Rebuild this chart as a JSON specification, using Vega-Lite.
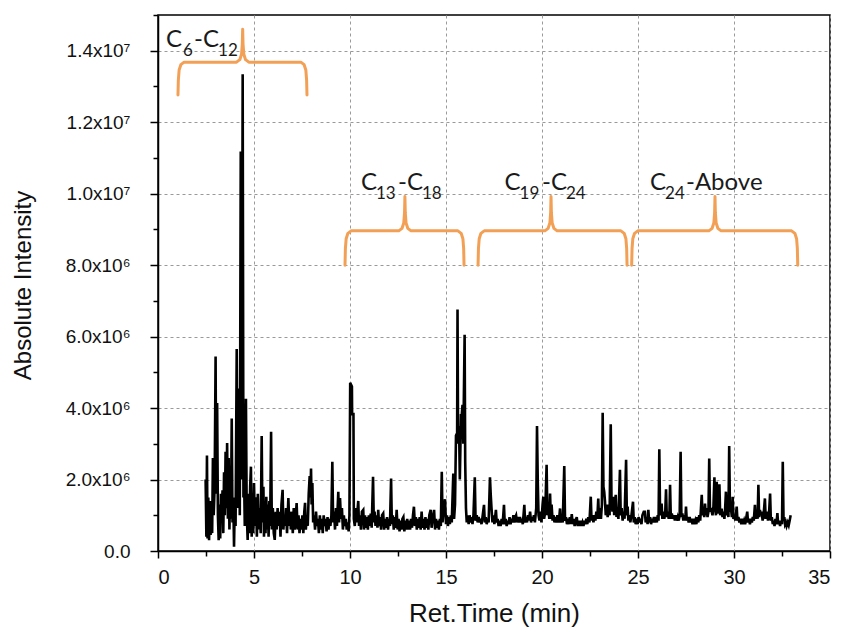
{
  "$schema": "https://vega.github.io/schema/vega-lite/v6.json",
  "autosize": "none",
  "width": 672,
  "height": 536,
  "padding": {"left": 158, "top": 15, "right": 11, "bottom": 81},
  "background": "white",
  "datasets": {
    "trace": [
      {"t":2.48,"i":2.0e6},{"t":2.52,"i":0.4e6},{"t":2.55,"i":2.67e6},{"t":2.58,"i":0.35e6},{"t":2.62,"i":1.5e6},{"t":2.66,"i":0.3e6},{"t":2.70,"i":1.4e6},{"t":2.74,"i":0.45e6},{"t":2.78,"i":1.2e6},{"t":2.82,"i":0.5e6},
      {"t":2.86,"i":2.6e6},{"t":2.90,"i":1.0e6},{"t":2.95,"i":1.8e6},{"t":3.00,"i":5.44e6},{"t":3.03,"i":1.6e6},{"t":3.08,"i":4.14e6},{"t":3.12,"i":1.0e6},{"t":3.16,"i":0.3e6},{"t":3.20,"i":1.3e6},{"t":3.24,"i":0.35e6},
      {"t":3.28,"i":1.6e6},{"t":3.32,"i":0.8e6},{"t":3.36,"i":1.7e6},{"t":3.40,"i":0.5e6},{"t":3.44,"i":2.2e6},{"t":3.48,"i":1.0e6},{"t":3.52,"i":2.78e6},{"t":3.56,"i":1.2e6},{"t":3.60,"i":3.02e6},{"t":3.64,"i":0.9e6},
      {"t":3.68,"i":2.6e6},{"t":3.72,"i":0.6e6},{"t":3.76,"i":1.9e6},{"t":3.80,"i":0.9e6},{"t":3.84,"i":3.71e6},{"t":3.88,"i":0.8e6},{"t":3.92,"i":1.5e6},{"t":3.96,"i":0.12e6},{"t":4.00,"i":1.4e6},{"t":4.04,"i":0.7e6},
      {"t":4.10,"i":5.65e6},{"t":4.14,"i":1.2e6},{"t":4.18,"i":2.5e6},{"t":4.22,"i":4.55e6},{"t":4.26,"i":1.0e6},{"t":4.31,"i":11.18e6},{"t":4.36,"i":2.0e6},{"t":4.41,"i":13.34e6},{"t":4.45,"i":1.5e6},{"t":4.48,"i":2.18e6},
      {"t":4.52,"i":0.7e6},{"t":4.58,"i":4.26e6},{"t":4.62,"i":1.1e6},{"t":4.67,"i":0.31e6},{"t":4.71,"i":1.6e6},{"t":4.75,"i":0.5e6},{"t":4.80,"i":1.8e6},{"t":4.84,"i":2.36e6},{"t":4.88,"i":0.4e6},{"t":4.92,"i":1.5e6},
      {"t":4.96,"i":0.5e6},{"t":5.00,"i":1.9e6},{"t":5.05,"i":0.7e6},{"t":5.10,"i":1.5e6},{"t":5.15,"i":0.4e6},{"t":5.20,"i":1.6e6},{"t":5.25,"i":0.6e6},{"t":5.30,"i":1.2e6},{"t":5.35,"i":0.5e6},{"t":5.40,"i":3.22e6},
      {"t":5.44,"i":0.8e6},{"t":5.49,"i":1.8e6},{"t":5.52,"i":0.4e6},{"t":5.56,"i":1.3e6},{"t":5.60,"i":0.5e6},{"t":5.64,"i":1.52e6},{"t":5.68,"i":0.6e6},{"t":5.72,"i":1.3e6},{"t":5.76,"i":0.4e6},{"t":5.80,"i":1.4e6},
      {"t":5.84,"i":0.7e6},{"t":5.89,"i":3.34e6},{"t":5.93,"i":0.6e6},{"t":5.98,"i":1.2e6},{"t":6.03,"i":0.5e6},{"t":6.08,"i":0.31e6},{"t":6.13,"i":1.1e6},{"t":6.18,"i":0.6e6},{"t":6.23,"i":1.2e6},{"t":6.28,"i":0.7e6},
      {"t":6.33,"i":1.1e6},{"t":6.38,"i":0.4e6},{"t":6.43,"i":1.3e6},{"t":6.49,"i":1.71e6},{"t":6.53,"i":0.6e6},{"t":6.58,"i":1.0e6},{"t":6.62,"i":0.7e6},{"t":6.67,"i":1.2e6},{"t":6.72,"i":0.5e6},{"t":6.79,"i":1.48e6},
      {"t":6.84,"i":0.7e6},{"t":6.88,"i":1.1e6},{"t":6.92,"i":0.6e6},{"t":6.97,"i":1.1e6},{"t":7.02,"i":0.5e6},{"t":7.07,"i":1.2e6},{"t":7.12,"i":0.6e6},{"t":7.17,"i":0.9e6},{"t":7.22,"i":1.34e6},{"t":7.27,"i":0.6e6},
      {"t":7.32,"i":1.0e6},{"t":7.37,"i":0.5e6},{"t":7.42,"i":0.9e6},{"t":7.47,"i":0.6e6},{"t":7.52,"i":1.0e6},{"t":7.57,"i":0.5e6},{"t":7.62,"i":1.1e6},{"t":7.66,"i":1.35e6},{"t":7.70,"i":0.6e6},{"t":7.75,"i":1.0e6},
      {"t":7.80,"i":0.7e6},{"t":7.85,"i":1.6e6},{"t":7.90,"i":2.1e6},{"t":7.94,"i":1.5e6},{"t":7.97,"i":2.31e6},{"t":8.00,"i":1.3e6},{"t":8.04,"i":1.9e6},{"t":8.08,"i":0.8e6},{"t":8.13,"i":1.0e6},{"t":8.18,"i":0.6e6},
      {"t":8.23,"i":1.1e6},{"t":8.28,"i":0.7e6},{"t":8.33,"i":0.9e6},{"t":8.38,"i":0.5e6},{"t":8.43,"i":1.0e6},{"t":8.48,"i":0.6e6},{"t":8.53,"i":0.9e6},{"t":8.58,"i":0.5e6},{"t":8.63,"i":1.0e6},{"t":8.68,"i":0.7e6},
      {"t":8.73,"i":0.9e6},{"t":8.78,"i":0.55e6},{"t":8.83,"i":0.95e6},{"t":8.88,"i":0.6e6},{"t":8.93,"i":0.9e6},{"t":8.98,"i":0.7e6},{"t":9.03,"i":1.0e6},{"t":9.08,"i":2.5e6},{"t":9.12,"i":0.8e6},{"t":9.17,"i":1.1e6},
      {"t":9.22,"i":0.6e6},{"t":9.27,"i":1.2e6},{"t":9.32,"i":0.7e6},{"t":9.39,"i":1.66e6},{"t":9.43,"i":0.8e6},{"t":9.48,"i":1.48e6},{"t":9.53,"i":0.9e6},{"t":9.58,"i":1.2e6},{"t":9.63,"i":0.6e6},{"t":9.68,"i":1.0e6},
      {"t":9.73,"i":0.7e6},{"t":9.78,"i":0.9e6},{"t":9.83,"i":0.6e6},{"t":9.88,"i":0.8e6},{"t":9.93,"i":0.55e6},{"t":9.97,"i":1.0e6},{"t":10.01,"i":4.71e6},{"t":10.10,"i":4.6e6},{"t":10.11,"i":3.83e6},{"t":10.18,"i":3.83e6},
      {"t":10.20,"i":0.9e6},{"t":10.25,"i":0.7e6},{"t":10.30,"i":1.2e6},{"t":10.35,"i":0.8e6},{"t":10.40,"i":1.2e6},{"t":10.43,"i":1.4e6},{"t":10.47,"i":0.7e6},{"t":10.52,"i":1.0e6},{"t":10.57,"i":0.6e6},{"t":10.62,"i":1.1e6},
      {"t":10.69,"i":1.15e6},{"t":10.73,"i":0.6e6},{"t":10.78,"i":1.0e6},{"t":10.83,"i":0.65e6},{"t":10.88,"i":0.95e6},{"t":10.93,"i":0.6e6},{"t":10.98,"i":1.0e6},{"t":11.03,"i":0.7e6},{"t":11.08,"i":1.05e6},{"t":11.13,"i":0.65e6},
      {"t":11.20,"i":2.08e6},{"t":11.24,"i":0.8e6},{"t":11.28,"i":1.1e6},{"t":11.33,"i":0.7e6},{"t":11.38,"i":1.0e6},{"t":11.43,"i":0.65e6},{"t":11.47,"i":1.15e6},{"t":11.52,"i":0.7e6},{"t":11.57,"i":0.95e6},{"t":11.62,"i":0.6e6},
      {"t":11.67,"i":1.0e6},{"t":11.73,"i":1.05e6},{"t":11.78,"i":0.6e6},{"t":11.83,"i":0.9e6},{"t":11.88,"i":0.65e6},{"t":11.93,"i":0.95e6},{"t":11.98,"i":0.6e6},{"t":12.03,"i":0.9e6},{"t":12.08,"i":0.7e6},{"t":12.14,"i":2.03e6},
      {"t":12.18,"i":0.75e6},{"t":12.23,"i":1.0e6},{"t":12.28,"i":0.6e6},{"t":12.33,"i":0.95e6},{"t":12.38,"i":0.65e6},{"t":12.43,"i":1.15e6},{"t":12.48,"i":0.6e6},{"t":12.53,"i":0.9e6},{"t":12.58,"i":0.55e6},{"t":12.63,"i":0.85e6},
      {"t":12.68,"i":0.6e6},{"t":12.73,"i":0.9e6},{"t":12.78,"i":0.95e6},{"t":12.83,"i":0.55e6},{"t":12.88,"i":0.85e6},{"t":12.93,"i":0.6e6},{"t":12.98,"i":0.9e6},{"t":13.03,"i":0.6e6},{"t":13.08,"i":0.85e6},{"t":13.13,"i":0.6e6},
      {"t":13.18,"i":0.9e6},{"t":13.23,"i":0.65e6},{"t":13.28,"i":1.0e6},{"t":13.33,"i":1.24e6},{"t":13.38,"i":0.7e6},{"t":13.43,"i":0.95e6},{"t":13.48,"i":0.6e6},{"t":13.53,"i":0.9e6},{"t":13.58,"i":0.65e6},{"t":13.63,"i":0.95e6},
      {"t":13.68,"i":0.6e6},{"t":13.73,"i":1.1e6},{"t":13.78,"i":0.65e6},{"t":13.83,"i":0.9e6},{"t":13.88,"i":0.6e6},{"t":13.93,"i":0.95e6},{"t":13.98,"i":0.65e6},{"t":14.03,"i":0.9e6},{"t":14.08,"i":0.6e6},{"t":14.13,"i":1.0e6},
      {"t":14.20,"i":1.15e6},{"t":14.25,"i":0.65e6},{"t":14.30,"i":0.9e6},{"t":14.38,"i":1.15e6},{"t":14.43,"i":0.6e6},{"t":14.48,"i":0.9e6},{"t":14.53,"i":0.65e6},{"t":14.58,"i":0.85e6},{"t":14.63,"i":0.6e6},{"t":14.68,"i":0.9e6},
      {"t":14.73,"i":0.7e6},{"t":14.78,"i":2.22e6},{"t":14.82,"i":0.8e6},{"t":14.87,"i":1.1e6},{"t":14.95,"i":1.45e6},{"t":15.00,"i":0.75e6},{"t":15.05,"i":1.0e6},{"t":15.10,"i":0.7e6},{"t":15.15,"i":0.95e6},{"t":15.20,"i":0.75e6},
      {"t":15.25,"i":1.0e6},{"t":15.30,"i":0.8e6},{"t":15.38,"i":2.17e6},{"t":15.42,"i":0.9e6},{"t":15.47,"i":1.3e6},{"t":15.52,"i":3.23e6},{"t":15.58,"i":3.3e6},{"t":15.60,"i":6.76e6},{"t":15.63,"i":3.0e6},{"t":15.68,"i":3.5e6},
      {"t":15.72,"i":2.0e6},{"t":15.78,"i":3.8e6},{"t":15.82,"i":3.8e6},{"t":15.86,"i":4.09e6},{"t":15.90,"i":3.0e6},{"t":15.97,"i":6.05e6},{"t":16.00,"i":2.5e6},{"t":16.04,"i":1.2e6},{"t":16.08,"i":0.8e6},{"t":16.13,"i":1.0e6},
      {"t":16.18,"i":0.75e6},{"t":16.23,"i":1.0e6},{"t":16.28,"i":0.8e6},{"t":16.33,"i":0.95e6},{"t":16.38,"i":0.75e6},{"t":16.43,"i":1.0e6},{"t":16.50,"i":2.06e6},{"t":16.54,"i":0.85e6},{"t":16.60,"i":1.0e6},{"t":16.65,"i":0.8e6},
      {"t":16.70,"i":0.95e6},{"t":16.75,"i":0.8e6},{"t":16.80,"i":0.9e6},{"t":16.85,"i":0.75e6},{"t":16.90,"i":0.95e6},{"t":16.98,"i":1.29e6},{"t":17.02,"i":0.8e6},{"t":17.07,"i":0.95e6},{"t":17.12,"i":0.75e6},{"t":17.17,"i":0.9e6},
      {"t":17.22,"i":0.8e6},{"t":17.29,"i":2.06e6},{"t":17.33,"i":1.57e6},{"t":17.37,"i":1.2e6},{"t":17.42,"i":0.8e6},{"t":17.47,"i":1.0e6},{"t":17.52,"i":0.75e6},{"t":17.60,"i":1.15e6},{"t":17.64,"i":0.8e6},{"t":17.69,"i":0.9e6},
      {"t":17.74,"i":0.7e6},{"t":17.79,"i":0.85e6},{"t":17.84,"i":0.7e6},{"t":17.90,"i":0.9e6},{"t":17.95,"i":0.75e6},{"t":18.02,"i":1.29e6},{"t":18.06,"i":0.75e6},{"t":18.11,"i":0.9e6},{"t":18.16,"i":0.7e6},{"t":18.21,"i":0.85e6},
      {"t":18.26,"i":0.75e6},{"t":18.31,"i":0.95e6},{"t":18.36,"i":0.75e6},{"t":18.41,"i":0.9e6},{"t":18.46,"i":0.8e6},{"t":18.51,"i":1.0e6},{"t":18.56,"i":0.8e6},{"t":18.61,"i":0.95e6},{"t":18.65,"i":1.0e6},{"t":18.70,"i":0.8e6},
      {"t":18.75,"i":0.95e6},{"t":18.80,"i":0.8e6},{"t":18.85,"i":0.95e6},{"t":18.90,"i":0.8e6},{"t":18.95,"i":0.9e6},{"t":19.00,"i":0.75e6},{"t":19.08,"i":1.29e6},{"t":19.12,"i":0.8e6},{"t":19.17,"i":0.95e6},{"t":19.22,"i":0.8e6},
      {"t":19.27,"i":1.0e6},{"t":19.32,"i":0.85e6},{"t":19.38,"i":1.1e6},{"t":19.43,"i":0.8e6},{"t":19.48,"i":0.95e6},{"t":19.53,"i":0.85e6},{"t":19.58,"i":1.0e6},{"t":19.63,"i":0.8e6},{"t":19.70,"i":1.2e6},{"t":19.74,"i":3.5e6},
      {"t":19.78,"i":1.94e6},{"t":19.82,"i":1.0e6},{"t":19.87,"i":0.85e6},{"t":19.92,"i":1.1e6},{"t":19.97,"i":0.8e6},{"t":20.03,"i":1.3e6},{"t":20.07,"i":1.52e6},{"t":20.11,"i":0.9e6},{"t":20.17,"i":1.1e6},{"t":20.24,"i":2.41e6},
      {"t":20.28,"i":1.0e6},{"t":20.33,"i":1.2e6},{"t":20.38,"i":0.9e6},{"t":20.42,"i":1.61e6},{"t":20.46,"i":0.9e6},{"t":20.50,"i":1.3e6},{"t":20.55,"i":0.85e6},{"t":20.60,"i":1.0e6},{"t":20.65,"i":0.8e6},{"t":20.70,"i":0.95e6},
      {"t":20.75,"i":0.8e6},{"t":20.80,"i":1.0e6},{"t":20.85,"i":0.8e6},{"t":20.90,"i":0.95e6},{"t":20.94,"i":1.19e6},{"t":20.98,"i":0.8e6},{"t":21.03,"i":0.95e6},{"t":21.08,"i":0.8e6},{"t":21.16,"i":2.38e6},{"t":21.20,"i":0.85e6},
      {"t":21.25,"i":0.95e6},{"t":21.30,"i":0.75e6},{"t":21.35,"i":0.9e6},{"t":21.40,"i":0.75e6},{"t":21.45,"i":0.95e6},{"t":21.50,"i":0.75e6},{"t":21.55,"i":1.03e6},{"t":21.60,"i":0.75e6},{"t":21.65,"i":0.9e6},{"t":21.70,"i":0.7e6},
      {"t":21.75,"i":0.85e6},{"t":21.81,"i":0.95e6},{"t":21.86,"i":0.7e6},{"t":21.91,"i":0.85e6},{"t":21.96,"i":0.7e6},{"t":22.01,"i":0.85e6},{"t":22.06,"i":0.7e6},{"t":22.11,"i":0.8e6},{"t":22.16,"i":0.7e6},{"t":22.21,"i":0.85e6},
      {"t":22.26,"i":0.75e6},{"t":22.31,"i":0.9e6},{"t":22.36,"i":0.75e6},{"t":22.41,"i":0.95e6},{"t":22.47,"i":0.8e6},{"t":22.54,"i":1.52e6},{"t":22.58,"i":0.85e6},{"t":22.63,"i":1.0e6},{"t":22.68,"i":0.8e6},{"t":22.73,"i":1.0e6},
      {"t":22.78,"i":0.85e6},{"t":22.83,"i":1.1e6},{"t":22.88,"i":0.9e6},{"t":22.93,"i":1.47e6},{"t":22.97,"i":0.9e6},{"t":23.02,"i":1.2e6},{"t":23.07,"i":0.9e6},{"t":23.12,"i":1.3e6},{"t":23.16,"i":3.87e6},{"t":23.20,"i":1.8e6},
      {"t":23.24,"i":1.66e6},{"t":23.28,"i":1.4e6},{"t":23.32,"i":1.0e6},{"t":23.37,"i":1.3e6},{"t":23.42,"i":0.95e6},{"t":23.47,"i":1.3e6},{"t":23.52,"i":1.0e6},{"t":23.58,"i":3.55e6},{"t":23.62,"i":1.4e6},{"t":23.67,"i":1.1e6},
      {"t":23.72,"i":1.52e6},{"t":23.76,"i":1.0e6},{"t":23.80,"i":1.3e6},{"t":23.84,"i":1.57e6},{"t":23.88,"i":0.95e6},{"t":23.93,"i":1.2e6},{"t":23.98,"i":0.9e6},{"t":24.06,"i":2.27e6},{"t":24.10,"i":1.0e6},{"t":24.15,"i":1.2e6},
      {"t":24.20,"i":0.85e6},{"t":24.25,"i":1.1e6},{"t":24.30,"i":0.9e6},{"t":24.38,"i":2.55e6},{"t":24.42,"i":1.0e6},{"t":24.46,"i":1.24e6},{"t":24.50,"i":0.85e6},{"t":24.55,"i":1.0e6},{"t":24.60,"i":0.8e6},{"t":24.66,"i":1.0e6},
      {"t":24.74,"i":1.38e6},{"t":24.78,"i":0.8e6},{"t":24.83,"i":0.95e6},{"t":24.88,"i":0.75e6},{"t":24.93,"i":0.9e6},{"t":24.98,"i":0.75e6},{"t":25.03,"i":0.95e6},{"t":25.08,"i":0.8e6},{"t":25.13,"i":0.9e6},{"t":25.18,"i":0.75e6},
      {"t":25.23,"i":1.0e6},{"t":25.30,"i":1.1e6},{"t":25.36,"i":1.1e6},{"t":25.40,"i":0.8e6},{"t":25.45,"i":0.95e6},{"t":25.50,"i":0.75e6},{"t":25.54,"i":1.15e6},{"t":25.58,"i":0.8e6},{"t":25.63,"i":0.95e6},{"t":25.68,"i":0.75e6},
      {"t":25.73,"i":0.9e6},{"t":25.78,"i":0.8e6},{"t":25.83,"i":0.95e6},{"t":25.88,"i":0.8e6},{"t":25.93,"i":0.95e6},{"t":25.98,"i":0.8e6},{"t":26.03,"i":1.0e6},{"t":26.07,"i":0.85e6},{"t":26.11,"i":2.85e6},{"t":26.15,"i":1.0e6},
      {"t":26.19,"i":1.1e6},{"t":26.23,"i":1.33e6},{"t":26.27,"i":0.9e6},{"t":26.32,"i":1.1e6},{"t":26.37,"i":0.9e6},{"t":26.42,"i":1.1e6},{"t":26.46,"i":1.73e6},{"t":26.50,"i":0.95e6},{"t":26.55,"i":1.1e6},{"t":26.60,"i":0.9e6},
      {"t":26.64,"i":1.1e6},{"t":26.67,"i":1.85e6},{"t":26.71,"i":0.9e6},{"t":26.76,"i":1.05e6},{"t":26.82,"i":0.9e6},{"t":26.87,"i":1.0e6},{"t":26.92,"i":0.85e6},{"t":26.97,"i":1.0e6},{"t":27.02,"i":0.85e6},{"t":27.07,"i":0.95e6},
      {"t":27.12,"i":0.85e6},{"t":27.17,"i":1.0e6},{"t":27.22,"i":2.78e6},{"t":27.26,"i":0.95e6},{"t":27.31,"i":1.05e6},{"t":27.36,"i":0.85e6},{"t":27.41,"i":1.0e6},{"t":27.46,"i":0.85e6},{"t":27.50,"i":1.24e6},{"t":27.54,"i":0.85e6},
      {"t":27.59,"i":0.95e6},{"t":27.64,"i":0.8e6},{"t":27.69,"i":0.95e6},{"t":27.74,"i":0.8e6},{"t":27.79,"i":0.9e6},{"t":27.84,"i":0.75e6},{"t":27.89,"i":0.9e6},{"t":27.94,"i":0.75e6},{"t":27.99,"i":0.85e6},{"t":28.04,"i":0.75e6},
      {"t":28.09,"i":0.95e6},{"t":28.14,"i":0.8e6},{"t":28.19,"i":1.0e6},{"t":28.24,"i":0.85e6},{"t":28.28,"i":1.2e6},{"t":28.32,"i":1.57e6},{"t":28.36,"i":1.0e6},{"t":28.41,"i":1.2e6},{"t":28.45,"i":0.95e6},{"t":28.49,"i":1.33e6},
      {"t":28.53,"i":1.0e6},{"t":28.58,"i":1.2e6},{"t":28.62,"i":0.95e6},{"t":28.67,"i":1.1e6},{"t":28.71,"i":2.59e6},{"t":28.75,"i":1.1e6},{"t":28.80,"i":1.2e6},{"t":28.84,"i":1.1e6},{"t":28.88,"i":1.0e6},{"t":28.93,"i":1.25e6},
      {"t":28.98,"i":2.06e6},{"t":29.02,"i":1.2e6},{"t":29.06,"i":1.0e6},{"t":29.10,"i":1.94e6},{"t":29.14,"i":1.05e6},{"t":29.19,"i":1.2e6},{"t":29.24,"i":1.87e6},{"t":29.28,"i":1.0e6},{"t":29.32,"i":1.15e6},{"t":29.36,"i":1.15e6},
      {"t":29.40,"i":0.95e6},{"t":29.45,"i":1.1e6},{"t":29.50,"i":0.9e6},{"t":29.54,"i":1.2e6},{"t":29.58,"i":1.66e6},{"t":29.62,"i":1.0e6},{"t":29.67,"i":1.1e6},{"t":29.71,"i":0.95e6},{"t":29.75,"i":2.94e6},{"t":29.79,"i":1.1e6},
      {"t":29.84,"i":1.2e6},{"t":29.89,"i":0.95e6},{"t":29.93,"i":1.52e6},{"t":29.97,"i":0.9e6},{"t":30.02,"i":1.0e6},{"t":30.07,"i":0.85e6},{"t":30.14,"i":1.24e6},{"t":30.18,"i":0.85e6},{"t":30.23,"i":0.95e6},{"t":30.28,"i":0.8e6},
      {"t":30.33,"i":0.9e6},{"t":30.38,"i":0.75e6},{"t":30.43,"i":0.9e6},{"t":30.48,"i":0.75e6},{"t":30.53,"i":0.85e6},{"t":30.58,"i":0.75e6},{"t":30.63,"i":0.9e6},{"t":30.69,"i":1.1e6},{"t":30.73,"i":0.8e6},{"t":30.78,"i":0.9e6},
      {"t":30.83,"i":0.75e6},{"t":30.88,"i":0.9e6},{"t":30.93,"i":0.8e6},{"t":30.98,"i":0.95e6},{"t":31.03,"i":0.85e6},{"t":31.09,"i":1.29e6},{"t":31.13,"i":0.9e6},{"t":31.18,"i":1.05e6},{"t":31.23,"i":0.9e6},{"t":31.27,"i":1.85e6},
      {"t":31.31,"i":0.95e6},{"t":31.35,"i":1.15e6},{"t":31.39,"i":1.0e6},{"t":31.44,"i":1.1e6},{"t":31.49,"i":0.85e6},{"t":31.54,"i":1.0e6},{"t":31.61,"i":1.47e6},{"t":31.65,"i":0.9e6},{"t":31.69,"i":1.05e6},{"t":31.73,"i":1.1e6},
      {"t":31.77,"i":0.85e6},{"t":31.82,"i":1.0e6},{"t":31.88,"i":1.61e6},{"t":31.92,"i":0.85e6},{"t":31.97,"i":0.95e6},{"t":32.02,"i":0.75e6},{"t":32.06,"i":0.85e6},{"t":32.11,"i":0.7e6},{"t":32.16,"i":0.9e6},{"t":32.21,"i":0.75e6},
      {"t":32.26,"i":1.06e6},{"t":32.30,"i":0.75e6},{"t":32.35,"i":0.85e6},{"t":32.40,"i":0.7e6},{"t":32.45,"i":0.85e6},{"t":32.50,"i":0.75e6},{"t":32.54,"i":2.5e6},{"t":32.58,"i":0.85e6},{"t":32.62,"i":0.95e6},{"t":32.66,"i":0.75e6},
      {"t":32.70,"i":0.8e6},{"t":32.74,"i":0.7e6},{"t":32.80,"i":0.8e6},{"t":32.85,"i":0.72e6},{"t":32.90,"i":0.85e6},{"t":32.95,"i":1.0e6}
    ],
    "braces": [
      {"b":"A","k":0,"t":1.04,"i":12.76e6},{"b":"A","k":1,"t":1.06,"i":13.18e6},{"b":"A","k":2,"t":1.10,"i":13.46e6},{"b":"A","k":3,"t":1.19,"i":13.61e6},{"b":"A","k":4,"t":1.36,"i":13.68e6},
      {"b":"A","k":5,"t":4.09,"i":13.68e6},{"b":"A","k":6,"t":4.26,"i":13.75e6},{"b":"A","k":7,"t":4.35,"i":13.90e6},{"b":"A","k":8,"t":4.39,"i":14.18e6},{"b":"A","k":9,"t":4.41,"i":14.60e6},
      {"b":"A","k":10,"t":4.43,"i":14.18e6},{"b":"A","k":11,"t":4.47,"i":13.90e6},{"b":"A","k":12,"t":4.56,"i":13.75e6},{"b":"A","k":13,"t":4.73,"i":13.68e6},{"b":"A","k":14,"t":7.44,"i":13.68e6},
      {"b":"A","k":15,"t":7.61,"i":13.61e6},{"b":"A","k":16,"t":7.70,"i":13.46e6},{"b":"A","k":17,"t":7.74,"i":13.18e6},{"b":"A","k":18,"t":7.76,"i":12.76e6},
      {"b":"B","k":0,"t":9.74,"i":8.0e6},{"b":"B","k":1,"t":9.76,"i":8.46e6},{"b":"B","k":2,"t":9.80,"i":8.74e6},{"b":"B","k":3,"t":9.89,"i":8.89e6},{"b":"B","k":4,"t":10.06,"i":8.96e6},
      {"b":"B","k":5,"t":12.54,"i":8.96e6},{"b":"B","k":6,"t":12.71,"i":9.03e6},{"b":"B","k":7,"t":12.80,"i":9.18e6},{"b":"B","k":8,"t":12.84,"i":9.46e6},{"b":"B","k":9,"t":12.86,"i":9.92e6},
      {"b":"B","k":10,"t":12.88,"i":9.46e6},{"b":"B","k":11,"t":12.92,"i":9.18e6},{"b":"B","k":12,"t":13.01,"i":9.03e6},{"b":"B","k":13,"t":13.18,"i":8.96e6},{"b":"B","k":14,"t":15.62,"i":8.96e6},
      {"b":"B","k":15,"t":15.79,"i":8.89e6},{"b":"B","k":16,"t":15.88,"i":8.74e6},{"b":"B","k":17,"t":15.92,"i":8.46e6},{"b":"B","k":18,"t":15.94,"i":8.0e6},
      {"b":"C","k":0,"t":16.67,"i":8.0e6},{"b":"C","k":1,"t":16.69,"i":8.46e6},{"b":"C","k":2,"t":16.73,"i":8.74e6},{"b":"C","k":3,"t":16.82,"i":8.89e6},{"b":"C","k":4,"t":16.99,"i":8.96e6},
      {"b":"C","k":5,"t":20.15,"i":8.96e6},{"b":"C","k":6,"t":20.32,"i":9.03e6},{"b":"C","k":7,"t":20.41,"i":9.18e6},{"b":"C","k":8,"t":20.45,"i":9.46e6},{"b":"C","k":9,"t":20.47,"i":9.92e6},
      {"b":"C","k":10,"t":20.49,"i":9.46e6},{"b":"C","k":11,"t":20.53,"i":9.18e6},{"b":"C","k":12,"t":20.62,"i":9.03e6},{"b":"C","k":13,"t":20.79,"i":8.96e6},{"b":"C","k":14,"t":24.11,"i":8.96e6},
      {"b":"C","k":15,"t":24.28,"i":8.89e6},{"b":"C","k":16,"t":24.37,"i":8.74e6},{"b":"C","k":17,"t":24.41,"i":8.46e6},{"b":"C","k":18,"t":24.43,"i":8.0e6},
      {"b":"D","k":0,"t":24.67,"i":8.0e6},{"b":"D","k":1,"t":24.69,"i":8.46e6},{"b":"D","k":2,"t":24.73,"i":8.74e6},{"b":"D","k":3,"t":24.82,"i":8.89e6},{"b":"D","k":4,"t":24.99,"i":8.96e6},
      {"b":"D","k":5,"t":28.69,"i":8.96e6},{"b":"D","k":6,"t":28.86,"i":9.03e6},{"b":"D","k":7,"t":28.95,"i":9.18e6},{"b":"D","k":8,"t":28.99,"i":9.46e6},{"b":"D","k":9,"t":29.01,"i":9.92e6},
      {"b":"D","k":10,"t":29.03,"i":9.46e6},{"b":"D","k":11,"t":29.07,"i":9.18e6},{"b":"D","k":12,"t":29.16,"i":9.03e6},{"b":"D","k":13,"t":29.33,"i":8.96e6},{"b":"D","k":14,"t":33.00,"i":8.96e6},
      {"b":"D","k":15,"t":33.17,"i":8.89e6},{"b":"D","k":16,"t":33.26,"i":8.74e6},{"b":"D","k":17,"t":33.30,"i":8.46e6},{"b":"D","k":18,"t":33.32,"i":8.0e6}
    ],
    "rangeText": [
      {"t":0.42,"i":14.11e6,"txt":"C"},{"t":1.88,"i":14.11e6,"txt":"-C"},
      {"t":10.57,"i":10.1e6,"txt":"C"},{"t":12.50,"i":10.1e6,"txt":"-C"},
      {"t":18.05,"i":10.1e6,"txt":"C"},{"t":20.00,"i":10.1e6,"txt":"-C"},
      {"t":25.63,"i":10.1e6,"txt":"C"},{"t":27.50,"i":10.1e6,"txt":"-Above"}
    ],
    "rangeSub": [
      {"t":1.30,"i":14.11e6,"txt":"6"},{"t":3.13,"i":14.11e6,"txt":"12"},
      {"t":11.35,"i":10.1e6,"txt":"13"},{"t":13.75,"i":10.1e6,"txt":"18"},
      {"t":18.83,"i":10.1e6,"txt":"19"},{"t":21.25,"i":10.1e6,"txt":"24"},
      {"t":26.41,"i":10.1e6,"txt":"24"}
    ]
  },
  "encoding": {
    "x": {
      "field": "t",
      "type": "quantitative",
      "scale": {"domain": [0, 35], "nice": false, "zero": false},
      "axis": {
        "title": "Ret.Time (min)",
        "values": [0, 2.5, 5, 7.5, 10, 12.5, 15, 17.5, 20, 22.5, 25, 27.5, 30, 32.5, 35],
        "labelExpr": "datum.value % 5 === 0 ? datum.label : ''",
        "tickSize": {"condition": {"test": "datum.value % 5 !== 0", "value": 5}, "value": 7},
        "gridOpacity": {"condition": {"test": "datum.value % 5 !== 0", "value": 0}, "value": 1},
        "labelPadding": 9,
        "labelFontSize": 20,
        "titleFontSize": 26,
        "titleBaseline": "alphabetic",
        "titleY": 70
      }
    },
    "y": {
      "field": "i",
      "type": "quantitative",
      "scale": {"domain": [0, 15000000], "nice": false},
      "axis": {
        "title": "Absolute Intensity",
        "values": [0, 1000000, 2000000, 3000000, 4000000, 5000000, 6000000, 7000000, 8000000, 9000000, 10000000, 11000000, 12000000, 13000000, 14000000, 15000000],
        "labelExpr": "datum.value % 2000000 !== 0 ? '' : datum.value === 0 ? '0.0' : datum.value < 10000000 ? format(datum.value / 1000000, '.1f') + 'x10⁶' : format(datum.value / 10000000, '.1f') + 'x10⁷'",
        "tickSize": {"condition": {"test": "datum.value % 2000000 !== 0", "value": 5}, "value": 8},
        "gridOpacity": {"condition": {"test": "datum.value % 2000000 !== 0 || datum.value === 0", "value": 0}, "value": 1},
        "labelPadding": 20,
        "labelFontSize": 19,
        "titleFontSize": 24,
        "titleX": -123,
        "titleY": 270
      }
    }
  },
  "layer": [
    {
      "data": {"name": "trace"},
      "mark": {"type": "line", "color": "#000000", "strokeWidth": 2.6, "clip": true}
    },
    {
      "data": {"name": "braces"},
      "mark": {"type": "line", "color": "#f2a055", "strokeWidth": 3, "strokeCap": "round", "strokeJoin": "round"},
      "encoding": {
        "detail": {"field": "b"},
        "order": {"field": "k", "type": "quantitative"}
      }
    },
    {
      "data": {"name": "rangeText"},
      "mark": {"type": "text", "font": "Lato", "fontSize": 24, "color": "#1a1a1a", "align": "left", "baseline": "alphabetic"},
      "encoding": {
        "text": {"field": "txt"}
      }
    },
    {
      "data": {"name": "rangeSub"},
      "mark": {"type": "text", "font": "Lato", "fontSize": 17, "color": "#1a1a1a", "align": "left", "baseline": "alphabetic", "dy": 9},
      "encoding": {
        "text": {"field": "txt"}
      }
    }
  ],
  "config": {
    "view": {"stroke": "#000000", "strokeWidth": 1.5},
    "axis": {
      "domainColor": "#000000",
      "domainWidth": 1.5,
      "tickColor": "#000000",
      "tickWidth": 1.5,
      "grid": true,
      "gridColor": "#9a9a9a",
      "gridDash": [3, 3],
      "gridWidth": 1,
      "labelFont": "Liberation Sans",
      "labelColor": "#111111",
      "titleFont": "Liberation Sans",
      "titleFontWeight": "normal",
      "titleColor": "#111111",
      "labelOverlap": false
    }
  }
}
